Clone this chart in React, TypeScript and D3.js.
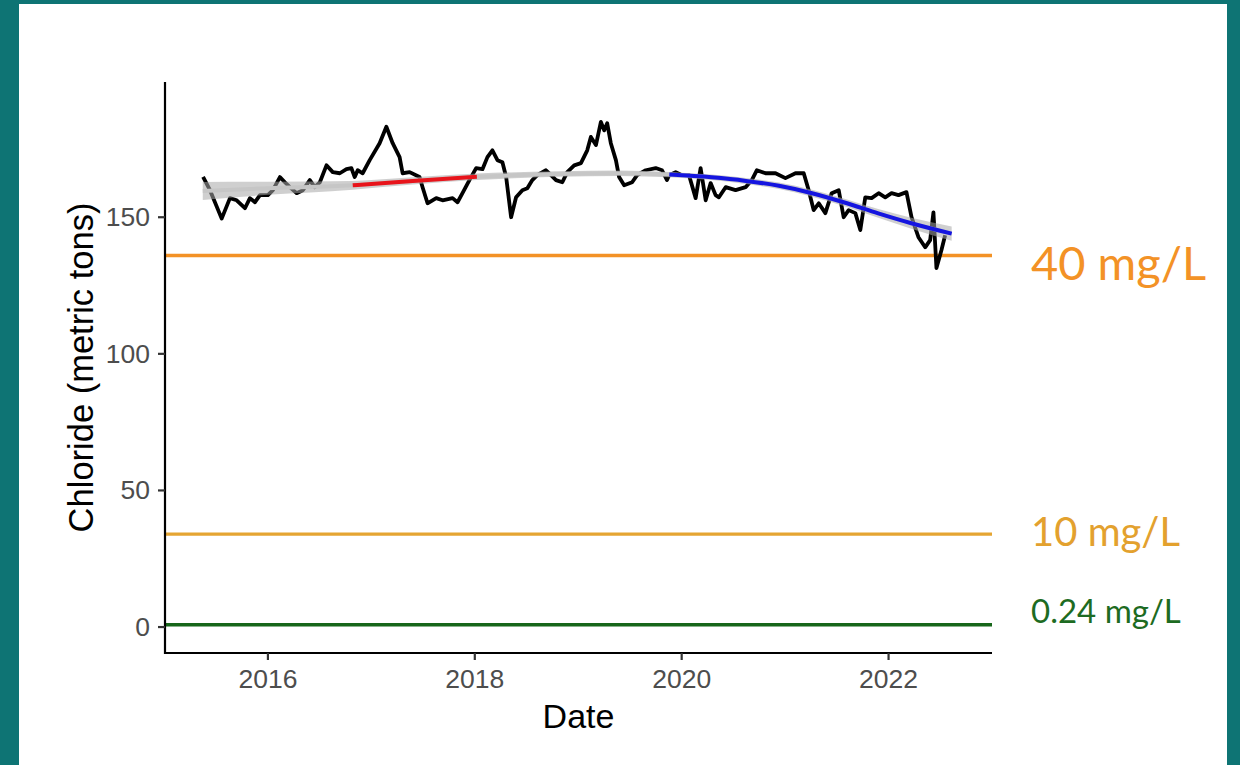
import React from 'react';
import * as d3 from 'd3';

// Weekly chloride load (decimal year, metric tons)
const dates = [
  2015.373, 2015.44, 2015.553, 2015.633, 2015.698, 2015.778, 2015.826, 2015.875, 2015.923, 2016.0,
  2016.048, 2016.116, 2016.164, 2016.212, 2016.277, 2016.338, 2016.405, 2016.453, 2016.502, 2016.566,
  2016.627, 2016.695, 2016.759, 2016.807, 2016.839, 2016.868, 2016.916, 2016.984, 2017.08, 2017.145,
  2017.206, 2017.273, 2017.302, 2017.37, 2017.466, 2017.495, 2017.543, 2017.627, 2017.688, 2017.785,
  2017.833, 2017.881, 2017.948, 2018.013, 2018.074, 2018.122, 2018.17, 2018.219, 2018.267, 2018.303,
  2018.351, 2018.399, 2018.46, 2018.508, 2018.556, 2018.604, 2018.688, 2018.737, 2018.785, 2018.846,
  2018.894, 2018.961, 2019.026, 2019.087, 2019.122, 2019.171, 2019.219, 2019.251, 2019.28, 2019.315,
  2019.364, 2019.395, 2019.444, 2019.521, 2019.569, 2019.653, 2019.749, 2019.81, 2019.858, 2019.878,
  2019.942, 2020.003, 2020.071, 2020.135, 2020.183, 2020.232, 2020.28, 2020.328, 2020.36, 2020.425,
  2020.521, 2020.618, 2020.678, 2020.727, 2020.81, 2020.907, 2021.003, 2021.1, 2021.18, 2021.228,
  2021.276, 2021.325, 2021.389, 2021.45, 2021.518, 2021.566, 2021.614, 2021.679, 2021.727, 2021.775,
  2021.836, 2021.904, 2021.968, 2022.029, 2022.096, 2022.173, 2022.222, 2022.289, 2022.354, 2022.402,
  2022.434, 2022.463, 2022.511, 2022.547,
];
const chloride = [
  164.8, 159.9, 149.5, 157.0, 156.2, 153.3, 157.0, 155.5, 158.1, 158.1,
  159.9, 164.7, 162.8, 161.0, 158.8, 159.9, 163.6, 161.0, 162.8, 169.0,
  166.5, 166.1, 167.6, 168.0, 164.7, 167.2, 166.1, 170.9, 177.1, 183.1,
  177.1, 172.0, 166.1, 166.5, 164.7, 161.0, 155.1, 157.0, 156.2, 157.0,
  155.5, 158.8, 163.6, 168.0, 167.6, 172.0, 174.5, 170.9, 170.1, 164.7,
  150.0, 157.3, 159.9, 160.6, 163.6, 165.4, 167.2, 165.4, 163.6, 162.8,
  166.5, 169.0, 169.8, 174.5, 179.4, 176.4, 184.9, 181.8, 184.4, 177.1,
  170.9, 164.7, 161.7, 162.8, 165.4, 167.2, 168.0, 167.2, 163.6, 165.4,
  166.5, 165.4, 165.4, 157.0, 168.0, 156.2, 162.5, 158.1, 157.3, 161.0,
  159.9, 161.0, 163.6, 167.2, 166.1, 166.1, 164.3, 166.1, 166.1, 159.9,
  152.6, 155.1, 151.5, 158.8, 159.9, 150.0, 152.6, 151.5, 145.3, 157.3,
  157.0, 158.8, 157.3, 158.8, 158.1, 159.2, 150.0, 142.7, 139.0, 141.6,
  151.8, 131.4, 137.9, 143.4,
];

// Smoothed trend with its standard-error half width
const smoothDates = [2015.37, 2016.0, 2016.82, 2017.4, 2018.02, 2018.8, 2019.4, 2019.88, 2020.29, 2020.62, 2020.94, 2021.26, 2021.59, 2021.9, 2022.22, 2022.61];
const smoothValues = [159.6, 160.6, 161.7, 163.3, 164.8, 165.8, 166.1, 165.6, 164.6, 163.3, 161.5, 158.8, 155.2, 151.4, 147.8, 144.0];
const smoothSE = [3.3, 2.4, 1.6, 1.3, 1.2, 1.0, 1.0, 1.0, 1.0, 1.1, 1.2, 1.3, 1.4, 1.6, 2.0, 2.6];

// Periods of significant change
const increasingPeriod = [2016.82, 2018.02];
const decreasingPeriod = [2019.88, 2022.61];

const xTicks = [2016, 2018, 2020, 2022];
const yTicks = [0, 50, 100, 150];

const thresholdLabels = ['40 mg/L', '10 mg/L', '0.24 mg/L'];
const thresholdTons = [136, 34, 0.816];

const thresholdStyle = [
  { line: '#f39226', text: '#f39226', size: 47, dy: 25 },
  { line: '#e5a532', text: '#e3a12e', size: 40, dy: 12 },
  { line: '#17661a', text: '#1d6b22', size: 33, dy: -2 },
];

export default function App() {
  const W = 1240;
  const H = 765;
  const left = 165, right = 992, top = 82, bottom = 653;

  const x = d3.scaleLinear().domain([2015.005, 2023.0]).range([left, right]);
  const y = d3.scaleLinear().domain([-9.5, 199.5]).range([bottom, top]);

  const obs = dates.map((d, i) => ({ d, v: chloride[i] }));
  const sm = smoothDates.map((d, i) => ({ d, v: smoothValues[i], se: smoothSE[i] }));

  const line = d3.line<{ d: number; v: number }>().x((p) => x(p.d)).y((p) => y(p.v));
  const smoothLine = d3
    .line<{ d: number; v: number }>()
    .x((p) => x(p.d))
    .y((p) => y(p.v))
    .curve(d3.curveMonotoneX);
  const ribbon = d3
    .area<{ d: number; v: number; se: number }>()
    .x((p) => x(p.d))
    .y0((p) => y(p.v - p.se))
    .y1((p) => y(p.v + p.se))
    .curve(d3.curveMonotoneX);

  const seg = (r: number[]) => sm.filter((p) => p.d >= r[0] - 1e-9 && p.d <= r[1] + 1e-9);

  const axisFont = '"Liberation Sans", Arial, sans-serif';

  return (
    <svg
      width={W}
      height={H}
      style={{ position: 'absolute', left: 0, top: 0, display: 'block' }}
    >
      <rect x={0} y={0} width={W} height={H} fill="#0e7474" />
      <rect x={19} y={4} width={1208} height={H - 4} fill="#ffffff" />

      {/* threshold lines */}
      {thresholdTons.map((t, i) => (
        <line
          key={'h' + i}
          x1={left}
          x2={right}
          y1={y(t)}
          y2={y(t)}
          stroke={thresholdStyle[i].line}
          strokeWidth={3.4}
        />
      ))}

      {/* observed series */}
      <path d={line(obs) || ''} fill="none" stroke="#000" strokeWidth={3.8} strokeLinejoin="round" />

      {/* smooth */}
      <path d={ribbon(sm) || ''} fill="#a8a8a8" fillOpacity={0.55} stroke="none" />
      <path d={smoothLine(sm) || ''} fill="none" stroke="#c6c6c6" strokeWidth={4} />
      <path d={smoothLine(seg(increasingPeriod)) || ''} fill="none" stroke="#e8141b" strokeWidth={4} />
      <path d={smoothLine(seg(decreasingPeriod)) || ''} fill="none" stroke="#1515e0" strokeWidth={4} />

      {/* axes */}
      <line x1={left} x2={left} y1={top} y2={bottom + 1} stroke="#000" strokeWidth={2.2} />
      <line x1={left - 1} x2={right} y1={bottom} y2={bottom} stroke="#000" strokeWidth={2.2} />

      {yTicks.map((t) => (
        <g key={'y' + t}>
          <line x1={left - 7} x2={left} y1={y(t)} y2={y(t)} stroke="#333" strokeWidth={2.2} />
          <text
            x={150}
            y={y(t)}
            textAnchor="end"
            dominantBaseline="central"
            fontFamily={axisFont}
            fontSize={26.5}
            fill="#4d4d4d"
          >
            {t}
          </text>
        </g>
      ))}
      {xTicks.map((t) => (
        <g key={'x' + t}>
          <line x1={x(t)} x2={x(t)} y1={bottom} y2={bottom + 7} stroke="#333" strokeWidth={2.2} />
          <text
            x={x(t)}
            y={688}
            textAnchor="middle"
            fontFamily={axisFont}
            fontSize={26.5}
            fill="#4d4d4d"
          >
            {t}
          </text>
        </g>
      ))}

      <text
        x={(left + right) / 2}
        y={728}
        textAnchor="middle"
        fontFamily={axisFont}
        fontSize={34}
        fill="#000"
      >
        Date
      </text>
      <text
        transform={`translate(93, ${(top + bottom) / 2}) rotate(-90)`}
        textAnchor="middle"
        fontFamily={axisFont}
        fontSize={34.5}
        fill="#000"
      >
        Chloride (metric tons)
      </text>

      {thresholdLabels.map((lab, i) => (
        <text
          key={'l' + i}
          x={1031}
          y={y(thresholdTons[i]) + thresholdStyle[i].dy}
          fontFamily="Lato, 'Open Sans', sans-serif"
          fontSize={thresholdStyle[i].size}
          fill={thresholdStyle[i].text}
        >
          {lab}
        </text>
      ))}
    </svg>
  );
}
